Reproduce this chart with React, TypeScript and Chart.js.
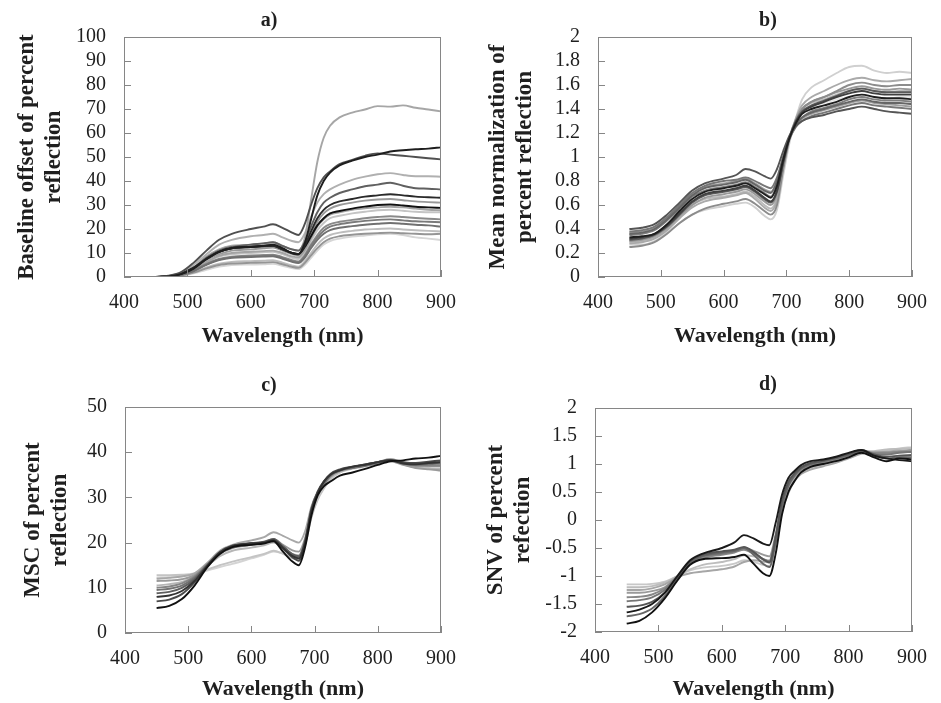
import React, { useEffect, useRef } from "react";
import { Chart, registerables } from "chart.js";

Chart.register(...registerables);

// ---------- data ----------
const wavelengths = [450, 470, 490, 510, 530, 550, 570, 600, 620, 635, 650, 665, 675, 685, 695, 705, 715, 725, 740, 760, 780, 800, 820, 840, 860, 880, 900];

const xTicks = [400, 500, 600, 700, 800, 900];

// a) Baseline offset of percent reflection
const baselineSpectra: number[][] = [
  [0, 0.2, 1.2, 3.5, 7.5, 10.5, 12, 12.5, 13, 13.5, 12, 10, 9.5, 14, 24, 34, 40, 43.5, 46.5, 48.5, 50, 51, 52.3, 52.8, 53.2, 53.5, 54],
  [0, 0.5, 2, 6, 11, 15.5, 18, 20, 21, 22, 20.5, 18.5, 17.5, 22, 30, 37, 41.5, 44, 47, 48.8, 50.5, 51.5, 51, 50.5, 50, 49.5, 49],
  [0, 0.3, 1.3, 3.8, 7.5, 10.5, 12, 12.5, 12.8, 13, 11.5, 10, 9.5, 13, 19, 24.5, 28, 30, 31.5, 32.5, 33.5, 34, 34.5, 34, 33.5, 33.2, 33],
  [0, 0.3, 1.3, 3.8, 7.5, 10.5, 12, 12.6, 12.9, 13, 11.5, 10, 9.6, 12.5, 17, 21.5, 24.5, 26.5, 27.5, 28.5, 29.3, 30, 30.2, 29.8, 29.3, 29, 28.8],
  [0, 0.3, 1.4, 4, 8, 11, 12.5, 13.5, 14, 14.5, 13, 11.5, 11, 14.5, 21, 27, 31, 33, 35, 36.5, 37.8, 38.5, 39.3, 38, 37, 36.8, 36.5],
  [0, 0.2, 0.9, 2.5, 5, 7, 8, 8.3, 8.5, 8.6, 7.6, 6.3, 5.8, 8, 12, 15.5, 18, 19.5, 20.5, 21.2, 21.8, 22.2, 22.5, 22.2, 21.8, 21.5, 21],
  [0, 0.2, 0.9, 2.6, 5.3, 7.3, 8.2, 8.6, 8.8, 9, 8, 6.6, 6.2, 8.5, 13, 16.5, 19.3, 21, 22, 22.8, 23.4, 23.8, 24, 23.6, 23.2, 23, 22.8],
  [0, 0.2, 1, 2.8, 5.5, 7.5, 8.5, 9, 9.2, 9.3, 8.3, 7, 6.5, 9, 13.5, 17.5, 20.5, 22, 23, 23.8, 24.5, 25, 25.3, 25, 24.6, 24.3, 24],
  [0, 0.2, 1.2, 3.5, 7, 9.5, 11, 11.5, 12, 12.3, 11, 9.5, 9, 12, 17.5, 23, 26.5, 28.5, 30, 31, 31.8, 32.3, 32.5, 32, 31.5, 31.2, 31],
  [0, 0.2, 1, 3, 6.2, 8.8, 10, 10.5, 10.8, 11, 10, 8.6, 8.2, 11, 16, 21, 24, 26, 27, 28, 28.6, 29, 29.3, 29, 28.5, 28, 27.8],
  [0, 0.1, 0.6, 1.8, 3.6, 5, 5.6, 5.9, 6, 6.2, 5.3, 4.2, 3.8, 5.8, 9, 12, 14.5, 16, 17, 17.6, 18, 18.3, 18.5, 18.2, 18, 17.8, 18],
  [0, 0.3, 1.5, 4, 8.5, 11.5, 13, 13.5, 14, 14.5, 13, 11.5, 11, 16, 32, 48, 58, 63, 66.5, 68.5, 69.8, 71.2, 71, 71.5, 70.5, 69.8, 69],
  [0, 0.4, 1.8, 5, 9.5, 13.5, 15.5, 17, 17.5, 18, 16.5, 15, 14.5, 18, 25, 31, 34.5, 36.5, 38.5, 40.5, 41.8, 42.8, 43.3, 42.5, 42, 42, 41.8],
  [0, 0.2, 1, 3, 6, 8.5, 9.5, 10, 10.3, 10.5, 9.5, 8, 7.5, 10, 15, 19.5, 22.5, 24.5, 25.5, 26.5, 27.2, 27.8, 28, 27.6, 27.2, 27, 27],
  [0, 0.1, 0.7, 2, 4, 5.5, 6.3, 6.6, 6.8, 7, 6, 4.8, 4.3, 6.5, 10, 13.5, 16, 17.5, 18.5, 19.2, 19.8, 20, 20.2, 19.8, 19.5, 19.2, 19],
  [0, 0.1, 0.5, 1.5, 3, 4.3, 5, 5.2, 5.3, 5.5, 4.7, 3.7, 3.3, 5, 8, 11, 13.5, 15, 16, 16.8, 17.3, 17.8, 18, 17.5, 16.5, 16, 15.4],
];
const baselineShades = ["#1e1e1e", "#505050", "#2a2a2a", "#111111", "#606060", "#707070", "#7a7a7a", "#8a8a8a", "#999999", "#a4a4a4", "#959595", "#a6a6a6", "#b0b0b0", "#c4c4c4", "#bdbdbd", "#d6d6d6"];

// b) Mean normalization of percent reflection
const meanNormSpectra: number[][] = [
  [0.33, 0.34, 0.36, 0.44, 0.55, 0.65, 0.71, 0.74, 0.76, 0.78, 0.74, 0.69, 0.66, 0.76, 0.98, 1.16, 1.28, 1.36, 1.4, 1.43, 1.46, 1.5, 1.52, 1.5, 1.49, 1.49, 1.48],
  [0.4, 0.41, 0.44, 0.52, 0.62, 0.72, 0.78, 0.82, 0.85, 0.9, 0.88, 0.84, 0.82, 0.9, 1.05, 1.18, 1.26, 1.3, 1.33, 1.35, 1.38, 1.4, 1.42, 1.4, 1.38, 1.37, 1.36],
  [0.32, 0.33, 0.36, 0.43, 0.53, 0.63, 0.69, 0.72, 0.74, 0.76, 0.72, 0.66, 0.63, 0.72, 0.96, 1.16, 1.29, 1.37, 1.42, 1.46, 1.5, 1.53, 1.55, 1.53, 1.52, 1.52, 1.52],
  [0.31, 0.32, 0.35, 0.42, 0.52, 0.62, 0.68, 0.71, 0.73, 0.75, 0.71, 0.65, 0.62, 0.71, 0.95, 1.16, 1.3, 1.38, 1.43, 1.47, 1.51, 1.55, 1.57, 1.55, 1.54, 1.54, 1.54],
  [0.36, 0.37, 0.4, 0.48, 0.58, 0.68, 0.74, 0.77, 0.79, 0.81, 0.77, 0.72, 0.7, 0.8, 1.0, 1.16, 1.27, 1.33, 1.37, 1.4, 1.43, 1.46, 1.48, 1.46, 1.45, 1.45, 1.44],
  [0.38, 0.39, 0.42, 0.5, 0.6, 0.7, 0.76, 0.8, 0.81, 0.83, 0.8, 0.76, 0.74, 0.83, 1.0, 1.15, 1.25, 1.3, 1.34, 1.37, 1.4, 1.43, 1.45, 1.43, 1.42, 1.41, 1.4],
  [0.35, 0.36, 0.39, 0.47, 0.57, 0.67, 0.72, 0.75, 0.77, 0.79, 0.75, 0.7, 0.67, 0.77, 0.99, 1.16, 1.27, 1.33, 1.38, 1.41, 1.44, 1.48, 1.5, 1.48, 1.47, 1.47, 1.46],
  [0.25, 0.26, 0.29, 0.36, 0.45, 0.52, 0.57, 0.61, 0.63, 0.65, 0.61, 0.55, 0.52, 0.6, 0.9, 1.15, 1.3, 1.4, 1.46, 1.5, 1.55, 1.6, 1.62, 1.6, 1.59, 1.6, 1.6],
  [0.3, 0.31, 0.34, 0.41, 0.51, 0.6, 0.66, 0.69, 0.71, 0.73, 0.69, 0.63, 0.6, 0.69, 0.95, 1.17, 1.31, 1.4, 1.46, 1.5, 1.54, 1.57, 1.59, 1.57, 1.56, 1.57, 1.56],
  [0.37, 0.38, 0.41, 0.49, 0.59, 0.69, 0.75, 0.78, 0.8, 0.82, 0.78, 0.73, 0.71, 0.8, 0.99, 1.15, 1.26, 1.32, 1.36, 1.39, 1.42, 1.45, 1.47, 1.45, 1.44, 1.43, 1.42],
  [0.28, 0.29, 0.32, 0.39, 0.49, 0.58, 0.63, 0.66, 0.68, 0.7, 0.65, 0.58, 0.55, 0.64, 0.92, 1.16, 1.32, 1.43, 1.5, 1.55, 1.6, 1.64, 1.66, 1.64, 1.63, 1.64, 1.65],
  [0.29, 0.3, 0.33, 0.4, 0.5, 0.6, 0.65, 0.67, 0.69, 0.71, 0.67, 0.6, 0.57, 0.66, 0.93, 1.15, 1.3, 1.4, 1.45, 1.48, 1.52, 1.55, 1.57, 1.55, 1.54, 1.55, 1.55],
  [0.3, 0.31, 0.34, 0.42, 0.53, 0.62, 0.68, 0.71, 0.72, 0.74, 0.7, 0.64, 0.61, 0.7, 0.95, 1.16, 1.3, 1.38, 1.43, 1.45, 1.48, 1.5, 1.52, 1.5, 1.48, 1.5, 1.5],
  [0.27, 0.27, 0.3, 0.37, 0.45, 0.52, 0.56, 0.59, 0.61, 0.62, 0.58, 0.51, 0.48, 0.56, 0.85, 1.12, 1.32, 1.48, 1.58, 1.64, 1.7, 1.75, 1.76, 1.72, 1.7, 1.71, 1.7],
];
const meanNormShades = ["#1e1e1e", "#555555", "#404040", "#5a5a5a", "#666666", "#777777", "#808080", "#8c8c8c", "#999999", "#a0a0a0", "#aaaaaa", "#bbbbbb", "#e6e6e6", "#d0d0d0"];

// c) MSC of percent reflection
const mscSpectra: number[][] = [
  [5.5, 6.0, 7.5, 10.5, 14.5, 17.5, 19, 19.5, 19.8, 20.3, 18, 15.8, 15, 19, 26, 30.5, 32.5, 33.5, 34.8, 35.5, 36.3, 37.2, 38, 38.2, 38.6, 38.8, 39.2],
  [8.0, 8.3, 9.3, 11.5, 14.8, 17.8, 19.2, 19.8, 20, 20.5, 18.8, 17, 16.5, 20, 27, 31, 33.5, 35, 36, 36.8, 37.2, 37.8, 38.2, 37.5, 37.3, 37.6, 37.8],
  [7, 7.4, 8.6, 11.2, 14.8, 17.8, 19.3, 19.8, 20.1, 20.6, 18.7, 16.7, 16, 19.8, 27.2, 31.2, 33.6, 35.2, 36.2, 36.8, 37.3, 37.8, 38.3, 37.8, 37.6, 37.9, 38.2],
  [8.8, 9.1, 10, 11.9, 15, 17.9, 19.3, 19.9, 20.2, 20.8, 19.2, 17.4, 17, 20.4, 27.5, 31.2, 33.5, 35, 36, 36.7, 37.3, 37.8, 38.3, 37.7, 37.4, 37.6, 37.8],
  [9.5, 9.8, 10.5, 12.2, 15, 17.8, 19.2, 19.7, 20, 20.7, 19, 17.3, 16.8, 20.2, 27, 30.8, 33, 34.8, 36, 36.5, 37, 37.6, 38.2, 37.6, 37.2, 37.3, 37.5],
  [10, 10.3, 11, 12.5, 15.2, 17.6, 18.9, 19.5, 19.9, 20.4, 19, 17.4, 17, 20.6, 27.6, 31.4, 33.6, 35, 36, 36.6, 37.1, 37.6, 38.1, 37.5, 37, 37, 37],
  [11.5, 11.6, 11.9, 12.8, 15, 17.5, 18.8, 19.5, 20, 20.8, 19.5, 18.3, 18, 21, 27, 30.5, 32.8, 34.5, 35.8, 36.5, 37, 37.5, 38, 37.2, 36.5, 36.2, 36],
  [12, 12.2, 12.5, 13.2, 15.5, 18.2, 19.5, 20.5, 21.2, 22.3, 21.5, 20.5, 20, 22.5, 28, 31.2, 33.2, 34.8, 35.8, 36.5, 37.2, 37.8, 38.5, 37.8, 37.2, 37, 36.8],
  [10.5, 10.8, 11.3, 12.6, 14.8, 17, 18.2, 18.9, 19.4, 20, 18.8, 17.5, 17.2, 20.5, 26.8, 30.5, 32.8, 34.6, 35.8, 36.6, 37.2, 37.7, 38.3, 37.3, 36.6, 36.4, 36.3],
  [12.8, 12.8, 12.9, 13.2, 14, 15, 15.8, 16.8, 17.5, 18.2, 17.5, 16.5, 16.3, 19.5, 25.5, 29.5, 32, 34, 35.5, 36.5, 37, 37.8, 38.5, 37.5, 36.8, 36.5, 36.2],
  [12.3, 12.4, 12.6, 13, 13.8, 14.6, 15.3, 16.5, 17.3, 18, 17.6, 16.8, 16.6, 19.8, 25.8, 29.8, 32.4, 34.4, 35.6, 36.3, 36.8, 37.5, 38.2, 37.4, 36.7, 36.3, 35.8],
];
const mscShades = ["#111111", "#333333", "#4a4a4a", "#5e5e5e", "#727272", "#858585", "#9a9a9a", "#a8a8a8", "#b6b6b6", "#c4c4c4", "#d4d4d4"];

// d) SNV of percent reflection
const snvSpectra: number[][] = [
  [-1.85, -1.8, -1.65, -1.4, -1.08, -0.8, -0.7, -0.68, -0.66, -0.62, -0.78, -0.95, -1.0, -0.6, 0.1, 0.5, 0.7, 0.85, 0.95, 1.0, 1.05, 1.12, 1.2, 1.12, 1.05, 1.1, 1.08],
  [-1.65, -1.6, -1.5, -1.3, -1.0, -0.72, -0.6, -0.5, -0.4, -0.27, -0.33, -0.42, -0.45, -0.05, 0.45, 0.75, 0.88, 0.98, 1.05, 1.08, 1.13, 1.2, 1.25, 1.15, 1.1, 1.07, 1.05],
  [-1.55, -1.53, -1.46, -1.3, -1.02, -0.74, -0.62, -0.56, -0.53, -0.48, -0.57, -0.7, -0.76, -0.3, 0.35, 0.68, 0.84, 0.94, 1.02, 1.06, 1.12, 1.18, 1.25, 1.17, 1.13, 1.15, 1.16],
  [-1.72, -1.68, -1.58, -1.36, -1.05, -0.76, -0.64, -0.58, -0.55, -0.5, -0.62, -0.78, -0.84, -0.4, 0.25, 0.62, 0.8, 0.92, 1.0, 1.05, 1.1, 1.16, 1.22, 1.15, 1.1, 1.12, 1.12],
  [-1.45, -1.43, -1.38, -1.25, -1.02, -0.76, -0.65, -0.6, -0.56, -0.5, -0.58, -0.7, -0.74, -0.3, 0.3, 0.64, 0.82, 0.92, 1.0, 1.05, 1.1, 1.17, 1.24, 1.18, 1.17, 1.2, 1.22],
  [-1.38, -1.37, -1.33, -1.22, -1.01, -0.78, -0.68, -0.62, -0.58, -0.53, -0.6, -0.7, -0.74, -0.32, 0.26, 0.6, 0.78, 0.89, 0.97, 1.02, 1.08, 1.15, 1.22, 1.2, 1.2, 1.22, 1.22],
  [-1.3, -1.3, -1.27, -1.2, -1.0, -0.78, -0.68, -0.6, -0.57, -0.5, -0.55, -0.62, -0.65, -0.25, 0.3, 0.62, 0.8, 0.9, 0.98, 1.03, 1.1, 1.17, 1.25, 1.2, 1.2, 1.22, 1.25],
  [-1.25, -1.25, -1.22, -1.15, -1.02, -0.95, -0.92, -0.88, -0.83, -0.75, -0.72, -0.74, -0.76, -0.38, 0.15, 0.48, 0.7, 0.82, 0.9, 0.96, 1.02, 1.1, 1.18, 1.2, 1.22, 1.24, 1.25],
  [-1.2, -1.2, -1.18, -1.12, -1.0, -0.88, -0.8, -0.75, -0.7, -0.63, -0.65, -0.7, -0.72, -0.32, 0.22, 0.55, 0.74, 0.86, 0.94, 1.0, 1.06, 1.13, 1.22, 1.23, 1.26, 1.27, 1.28],
  [-1.15, -1.15, -1.14, -1.1, -1.0, -0.9, -0.85, -0.82, -0.78, -0.72, -0.75, -0.8, -0.82, -0.4, 0.15, 0.5, 0.72, 0.85, 0.92, 1.0, 1.05, 1.12, 1.2, 1.22, 1.25, 1.28, 1.3],
];
const snvShades = ["#111111", "#1a1a1a", "#555555", "#666666", "#777777", "#888888", "#999999", "#a6a6a6", "#bdbdbd", "#c8c8c8"];

// ---------- styling ----------
const SERIF = "'Liberation Serif', 'Times New Roman', serif";
const FRAME = "#868686";
const TEXT = "#1f1f1f";

const framePlugin = {
  id: "frame",
  afterDatasetsDraw(chart: any) {
    const { ctx, chartArea, scales } = chart;
    const { left, top, right, bottom } = chartArea;
    ctx.save();
    ctx.strokeStyle = FRAME;
    ctx.lineWidth = 1;
    ctx.strokeRect(Math.round(left) + 0.5, Math.round(top) + 0.5, Math.round(right - left) - 1, Math.round(bottom - top) - 1);
    ctx.beginPath();
    scales.x.ticks.forEach((t: any) => {
      const px = Math.round(scales.x.getPixelForValue(t.value)) + 0.5;
      ctx.moveTo(px, bottom);
      ctx.lineTo(px, bottom - 7);
    });
    scales.y.ticks.forEach((t: any) => {
      const py = Math.round(scales.y.getPixelForValue(t.value)) + 0.5;
      ctx.moveTo(left, py);
      ctx.lineTo(left + 7, py);
    });
    ctx.stroke();
    ctx.restore();
  },
};

type Area = { left: number; top: number; right: number; bottom: number };

type PanelProps = {
  x: number;
  y: number;
  w: number;
  h: number;
  label: string;
  labelX: number;
  labelY: number;
  spectra: number[][];
  shades: string[];
  yMin: number;
  yMax: number;
  yStep: number;
  yTitle: string[];
  yTitlePad: number;
  area: Area;
};

function fmt(v: number | string) {
  return String(Number(Number(v).toFixed(2)));
}

function Panel(p: PanelProps) {
  const ref = useRef<HTMLCanvasElement | null>(null);
  useEffect(() => {
    if (!ref.current) return;
    const datasets = p.spectra.map((vals, i) => ({
      label: `${p.label} ${i + 1}`,
      data: wavelengths.map((w, j) => ({ x: w, y: vals[j] })),
      borderColor: p.shades[i % p.shades.length],
      borderWidth: 1.9,
      pointRadius: 0,
      fill: false,
      cubicInterpolationMode: "monotone" as const,
    }));
    const chart = new Chart(ref.current, {
      type: "line",
      data: { datasets },
      options: {
        responsive: false,
        animation: false,
        layout: { padding: { left: 0, right: p.w - p.area.right, top: p.area.top, bottom: 0 } },
        plugins: {
          legend: { display: false },
          tooltip: { enabled: false },
          title: { display: false },
        },
        scales: {
          x: {
            type: "linear",
            min: 400,
            max: 900,
            afterBuildTicks: (s: any) => {
              s.ticks = xTicks.map((v) => ({ value: v }));
            },
            afterFit: (s: any) => {
              s.height = p.h - p.area.bottom;
            },
            grid: { display: false, drawTicks: false },
            border: { display: false },
            ticks: {
              padding: 14,
              color: TEXT,
              maxRotation: 0,
              autoSkip: false,
              font: { family: SERIF, size: 20 },
              callback: (v: any) => fmt(v),
            },
            title: {
              display: true,
              text: "Wavelength (nm)",
              color: TEXT,
              font: { family: SERIF, size: 22, weight: "bold", lineHeight: 1.2 },
              padding: { top: 0, bottom: 0 },
            },
          },
          y: {
            type: "linear",
            min: p.yMin,
            max: p.yMax,
            afterFit: (s: any) => {
              s.width = p.area.left;
            },
            grid: { display: false, drawTicks: false },
            border: { display: false },
            ticks: {
              stepSize: p.yStep,
              autoSkip: false,
              padding: 18,
              color: TEXT,
              font: { family: SERIF, size: 20 },
              callback: (v: any) => fmt(v),
            },
            title: {
              display: true,
              text: p.yTitle,
              color: TEXT,
              font: { family: SERIF, size: 23, weight: "bold", lineHeight: 1.2 },
              padding: { top: p.yTitlePad, bottom: 0 },
            },
          },
        },
      },
      plugins: [framePlugin],
    });
    return () => chart.destroy();
  }, []);
  return (
    <>
      <canvas ref={ref} width={p.w} height={p.h} style={{ position: "absolute", left: p.x, top: p.y }} />
      <div
        style={{
          position: "absolute",
          left: p.labelX,
          top: p.labelY,
          transform: "translate(-50%, -50%)",
          font: `bold 20px ${SERIF}`,
          lineHeight: "20px",
          color: TEXT,
          whiteSpace: "nowrap",
        }}
      >
        {p.label}
      </div>
    </>
  );
}

export default function App() {
  return (
    <div style={{ position: "absolute", left: 0, top: 0, width: 941, height: 703, background: "#ffffff", overflow: "hidden" }}>
      <Panel
        x={0} y={0} w={470} h={350}
        label="a)" labelX={269} labelY={18.5}
        spectra={baselineSpectra} shades={baselineShades}
        yMin={0} yMax={100} yStep={10}
        yTitle={["Baseline offset of percent", "reflection"]} yTitlePad={13}
        area={{ left: 124, top: 37, right: 453, bottom: 277 }}
      />
      <Panel
        x={470} y={0} w={471} h={350}
        label="b)" labelX={768} labelY={18.5}
        spectra={meanNormSpectra} shades={meanNormShades}
        yMin={0} yMax={2} yStep={0.2}
        yTitle={["Mean normalization of", "percent reflection"]} yTitlePad={14}
        area={{ left: 128, top: 37, right: 452, bottom: 277 }}
      />
      <Panel
        x={0} y={350} w={470} h={353}
        label="c)" labelX={269} labelY={383.5}
        spectra={mscSpectra} shades={mscShades}
        yMin={0} yMax={50} yStep={10}
        yTitle={["MSC of percent", "reflection"]} yTitlePad={19}
        area={{ left: 125, top: 57, right: 453, bottom: 283 }}
      />
      <Panel
        x={470} y={350} w={471} h={353}
        label="d)" labelX={768} labelY={382.5}
        spectra={snvSpectra} shades={snvShades}
        yMin={-2} yMax={2} yStep={0.5}
        yTitle={["SNV of percent", "refection"]} yTitlePad={12}
        area={{ left: 125, top: 58, right: 452, bottom: 282 }}
      />
    </div>
  );
}
